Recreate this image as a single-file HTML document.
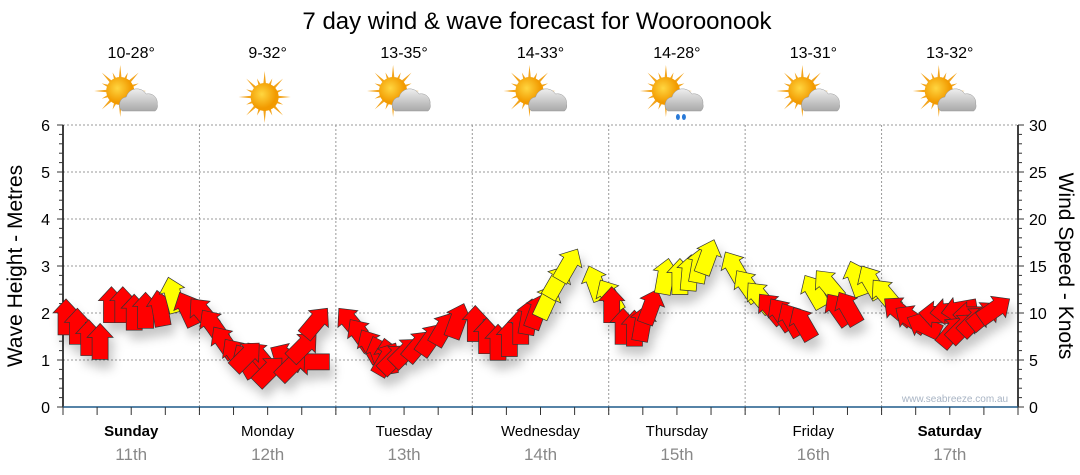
<!DOCTYPE html>
<html><head><meta charset="utf-8"><style>
body{margin:0;background:#fff;width:1080px;height:475px;overflow:hidden;font-family:"Liberation Sans",sans-serif}
svg{display:block}
</style></head><body>
<svg id="c" width="1080" height="475" xmlns="http://www.w3.org/2000/svg">
<defs>
<filter id="sh" x="-50%" y="-50%" width="200%" height="200%"><feDropShadow dx="4" dy="9" stdDeviation="5" flood-color="#000" flood-opacity="0.22"/></filter>
<radialGradient id="sunG" cx="40%" cy="40%"><stop offset="0" stop-color="#ffd640"/><stop offset="1" stop-color="#f29a00"/></radialGradient>
<linearGradient id="cloudG" x1="0" y1="0" x2="0" y2="1"><stop offset="0" stop-color="#eeeeee"/><stop offset="1" stop-color="#a9a9a9"/></linearGradient>
</defs>
<text x="537" y="29" text-anchor="middle" font-size="24" fill="#000">7 day wind &amp; wave forecast for Wooroonook</text>
<g id="grid"></g><g id="icons"></g><g id="axes"></g><g id="arrows" filter="url(#sh)"></g>
<text x="955" y="402" text-anchor="middle" font-size="10" fill="#a8b4c4">www.seabreeze.com.au</text>
<text transform="translate(22,266) rotate(-90)" text-anchor="middle" font-size="21" fill="#000">Wave Height - Metres</text>
<text transform="translate(1059,266) rotate(90)" text-anchor="middle" font-size="21" fill="#000">Wind Speed - Knots</text>
</svg>
<script>
const days = ["Sunday","Monday","Tuesday","Wednesday","Thursday","Friday","Saturday"];
const dates = ["11th","12th","13th","14th","15th","16th","17th"];
const temps = ["10-28°","9-32°","13-35°","14-33°","14-28°","13-31°","13-32°"];
const weather = ["cloudy","sunny","cloudy","cloudy","rain","cloudy","cloudy"];
const waveTicks = [0,1,2,3,4,5,6];
const windTicks = [0,5,10,15,20,25,30];
const windSpeed = [
 11.5,10.5,9.3,8.9,12.8,12.8,12.0,12.2,12.4,13.8,12.2,11.5,
 10.3,8.5,7.2,6.6,6.8,6.8,6.3,5.2,4.8,5.8,7.8,10.5,
 10.5,9.3,8.2,7.5,7.3,6.8,6.5,7.2,8.0,8.8,10.0,11.0,
 10.8,9.5,8.8,9.2,10.5,11.5,12.0,13.0,15.0,16.8,15.0,13.5,
 12.8,10.5,10.3,10.8,12.5,15.8,15.8,16.2,17.0,17.8,16.5,14.5,
 13.2,12.0,11.5,11.0,10.6,14.0,14.5,12.0,12.2,15.5,15.0,13.5,
 11.5,10.5,9.5,10.0,10.0,10.0,9.8,9.5,9.8,10.5,11.0,11.5];
const windDir = [
 0,0,0,0,0,0,0,0,-10,-15,-25,-40,
 -35,-35,-35,-30,-40,45,-60,45,-90,45,45,40,
 -40,-35,-30,-20,-10,30,45,45,40,35,30,20,
 0,0,0,0,0,10,20,25,30,30,-20,-30,
 0,0,0,10,20,10,0,5,10,20,-30,-35,
 -40,-40,-35,-30,-30,-30,-40,-35,-30,-20,-30,-40,
 -50,-55,-65,-85,-95,-100,-90,40,45,45,50,55];
const NS="http://www.w3.org/2000/svg";
const X0=63,X1=1018,Y0=407,Y1=125,DW=(X1-X0)/7;
const xDay=d=>X0+d*DW;
const xSlot=k=>X0+k*DW/12+3;
const yWave=v=>Y0-v*(Y0-Y1)/6;
const yWind=v=>Y0-v*(Y0-Y1)/30;
function mk(tag,attrs,parent){const e=document.createElementNS(NS,tag);for(const k in attrs)e.setAttribute(k,attrs[k]);parent.appendChild(e);return e;}
const grid=document.getElementById('grid'),axes=document.getElementById('axes'),icons=document.getElementById('icons'),arrows=document.getElementById('arrows');
waveTicks.forEach(v=>{if(v===0)return;const l=mk('line',{x1:X0,x2:X1,y1:yWave(v),y2:yWave(v),stroke:'#999','stroke-dasharray':'2,2'},grid);

});
for(let d=1;d<7;d++){const l=mk('line',{x1:xDay(d),x2:xDay(d),y1:Y1,y2:Y0+8,stroke:'#999','stroke-dasharray':'2,2'},grid);

}
mk('line',{x1:X0,x2:X0,y1:Y1,y2:Y0,stroke:'#000','stroke-width':1.5},axes);
mk('line',{x1:X1,x2:X1,y1:Y1,y2:Y0,stroke:'#000','stroke-width':1.5},axes);
mk('line',{x1:X0,x2:X1,y1:Y0,y2:Y0,stroke:'#1f5a8a','stroke-width':1.5},axes);
for(let i=0;i<=30;i++){const y=Y0-i*(Y0-Y1)/30;const maj=i%5===0;
mk('line',{x1:X0-(maj?6:4),x2:X0,y1:y,y2:y,stroke:'#333'},axes);
mk('line',{x1:X1,x2:X1+(maj?6:4),y1:y,y2:y,stroke:'#333'},axes);}
waveTicks.forEach(v=>{const t=mk('text',{x:50,y:yWave(v)+6,'text-anchor':'end','font-size':16,fill:'#000'},axes);t.textContent=v;

});
windTicks.forEach(v=>{const t=mk('text',{x:1029,y:yWind(v)+6,'font-size':16,fill:'#000'},axes);t.textContent=v;

});
for(let k=0;k<=28;k++){const x=X0+k*DW/4;mk('line',{x1:x,x2:x,y1:Y0,y2:Y0+8,stroke:'#333'},axes);}
days.forEach((d,i)=>{const cx=xDay(i)+DW/2;
const t=mk('text',{x:cx,y:436,'text-anchor':'middle','font-size':15,fill:'#000','font-weight':(i===0||i===6)?'bold':'normal'},axes);t.textContent=d;


const t2=mk('text',{x:cx,y:460,'text-anchor':'middle','font-size':17,fill:'#888'},axes);t2.textContent=dates[i];


const t3=mk('text',{x:cx,y:58,'text-anchor':'middle','font-size':16,fill:'#000'},icons);t3.textContent=temps[i];


const g=mk('g',{transform:`translate(${cx-3},97)`},icons);


const sx=weather[i]==='sunny'?0:-8, sy=weather[i]==='sunny'?0:-6;
for(let r=0;r<16;r++){const a=r*Math.PI/8;const L=r%2?20:26;
mk('polygon',{points:`${sx+Math.cos(a-0.12)*12},${sy+Math.sin(a-0.12)*12} ${sx+Math.cos(a)*L},${sy+Math.sin(a)*L} ${sx+Math.cos(a+0.12)*12},${sy+Math.sin(a+0.12)*12}`,fill:'#f3a41c'},g);}
mk('circle',{cx:sx,cy:sy,r:14,fill:'url(#sunG)'},g);
if(weather[i]!=='sunny'){
mk('path',{d:'M-6,14 a8,8 0 0 1 4,-14 a11,11 0 0 1 20,-3 a9,9 0 0 1 11,10 a7,7 0 0 1 -2,7 Z',fill:'url(#cloudG)',stroke:'#999','stroke-width':0.5},g);
if(weather[i]==='rain'){mk('ellipse',{cx:4,cy:20,rx:2,ry:3,fill:'#2a7ad8'},g);mk('ellipse',{cx:10,cy:20,rx:2,ry:3,fill:'#2a7ad8'},g);}}
});
windSpeed.forEach((v,k)=>{const x=xSlot(k),y=yWind(v);
const p=mk('path',{d:'M0,0 L13,14 L8,14 L8,36 L-8,36 L-8,14 L-13,14 Z',transform:`translate(${x},${y}) rotate(${windDir[k]})`,fill:v>=13?'#ffff00':'#ff0000',stroke:'#333','stroke-width':0.7},arrows);

});
</script>
</body></html>
